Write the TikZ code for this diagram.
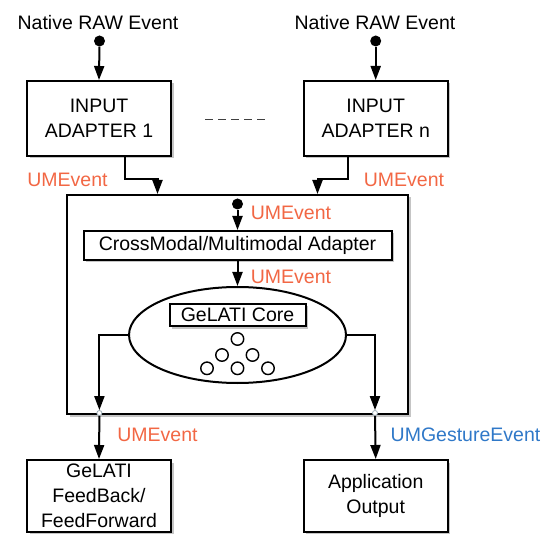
\documentclass[tikz,border=0pt]{standalone}
\usepackage{fontspec}
\setmainfont{Liberation Sans}
\usetikzlibrary{arrows.meta,positioning,calc,shapes.geometric,shadows}
\definecolor{umred}{HTML}{F26744}
\definecolor{umblue}{HTML}{2F78C8}
\definecolor{port}{HTML}{9AAAB4}
\tikzset{box/.style={draw,fill=white,line width=2pt,align=center,inner sep=0pt,
  drop shadow={shadow xshift=2.5pt,shadow yshift=-2.5pt,fill=black!45,opacity=.5}},
  flow/.style={-{Triangle[length=14pt,width=10pt]},line width=2pt},
  evt/.style={text=umred,inner sep=0pt},
  dot/.style={circle,fill,inner sep=0pt,minimum size=11pt},
  port/.style={circle,draw=port,fill=white,line width=.8pt,inner sep=0pt,minimum size=5pt},
  unit/.style={circle,draw,line width=1.4pt,inner sep=0pt,minimum size=12.5pt}}

\begin{document}
\begin{tikzpicture}[x=1pt,y=-1pt,font=\fontsize{19.5}{25}\selectfont]
\useasboundingbox (0,0) rectangle (543,534);
% input side
\node (raw1) at (98,22.5) {Native RAW Event};
\node (rawn) at (375,22.5) {Native RAW Event};
\node[dot] (s1) at (99.5,41) {};
\node[dot] (sn) at (375.7,41) {};
\node[box,minimum width=144pt,minimum height=75pt] (in1) at (99,118.5) {INPUT\\ADAPTER 1};
\node[box,minimum width=144pt,minimum height=75pt] (inn) at (375.7,118.5) {INPUT\\ADAPTER n};
\draw[flow] (s1) -- (in1.north);
\draw[flow] (sn) -- (inn.north);
\draw[line width=1.4pt,draw=black!75,dash pattern=on 8pt off 5pt] ($(in1.east)+(33,1)$) -- ($(inn.west)+(-37,1)$);
\node[evt] (ev1) at (67.5,180) {UMEvent};
\node[evt] (evn) at (404,180) {UMEvent};
% main block
\node[box,minimum width=341pt,minimum height=219pt] (main) at (237.5,304.5) {};
\draw[flow] ([xshift=26pt]in1.south) -- ++(0,22) -| ([xshift=-80pt]main.north);
\draw[flow] ([xshift=-27.7pt]inn.south) -- ++(0,22) -| ([xshift=80pt]main.north);
\node[dot] (d0) at (237.5,204) {};
\node[box,minimum width=308pt,minimum height=29pt] (cross) at (237.5,245.5) {CrossModal/Multimodal Adapter};
\node[evt] (evc) at (291,213) {UMEvent};
\draw[flow] (d0) -- (cross.north);
\node[draw,ellipse,line width=2pt,minimum width=217pt,minimum height=96pt] (core) at (237.5,335) {};
\draw[flow] (cross.south) -- (core.north);
\node[evt] (evg) at (291,277) {UMEvent};
\node[box,minimum width=136pt,minimum height=22pt] (corebox) at (237.5,315) {GeLATI Core};
\foreach \n/\cx/\cy in {a/237.5/339,b/222/355,c/252.5/355,d/207/368.3,e/237.5/368.3,f/268/368.3}
  \node[unit] (u\n) at (\cx,\cy) {};
\node[port] (o1) at (99.4,413) {};
\node[port] (o2) at (375,413) {};
\draw[flow] (core.west) -| (o1.north);
\draw[flow] (core.east) -| (o2.north);
% output side
\node[box,minimum width=144pt,minimum height=72pt] (fb) at (99,496) {GeLATI\\FeedBack/\\FeedForward};
\node[box,minimum width=144pt,minimum height=72pt] (app) at (375.7,496) {Application\\Output};
\draw[flow] (o1.south) -- (fb.north);
\draw[flow] (o2.south) -- (app.north);
\node[evt] (evf) at (157.5,435) {UMEvent};
\node[text=umblue,inner sep=0pt] (evu) at (465.5,435) {UMGestureEvent};
\end{tikzpicture}
\end{document}
